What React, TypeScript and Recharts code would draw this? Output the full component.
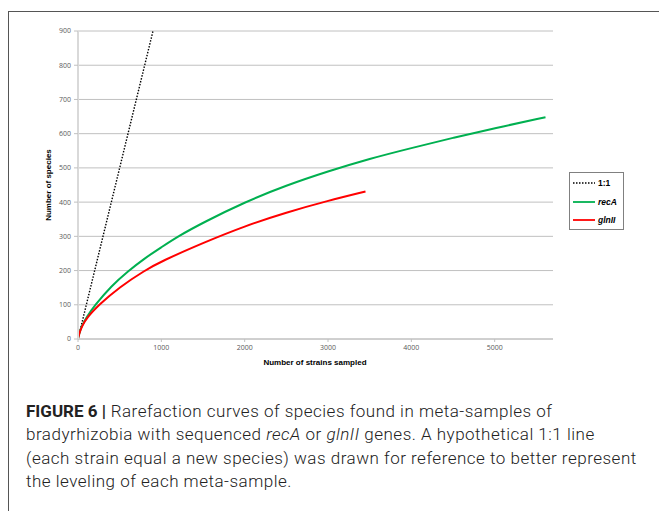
import React from "react";
import { CartesianGrid, Line, LineChart, XAxis, YAxis } from "recharts";

// 1:1 reference line
const oneToOne = [
  { x: 0, y: 0 },
  { x: 900, y: 900 },
];

// recA rarefaction curve (strains sampled, species)
const recA = [
  { x: 0, y: 0 },
  { x: 10, y: 12 },
  { x: 25, y: 24 },
  { x: 50, y: 40 },
  { x: 100, y: 63 },
  { x: 200, y: 98 },
  { x: 400, y: 155 },
  { x: 600, y: 198 },
  { x: 800, y: 236 },
  { x: 1000, y: 268 },
  { x: 1200, y: 300 },
  { x: 1500, y: 340 },
  { x: 2000, y: 400 },
  { x: 2500, y: 449 },
  { x: 3000, y: 490 },
  { x: 3500, y: 527 },
  { x: 4000, y: 558 },
  { x: 4500, y: 588 },
  { x: 5000, y: 616 },
  { x: 5610, y: 648 },
];

// glnII rarefaction curve
const glnII = [
  { x: 0, y: 0 },
  { x: 10, y: 11 },
  { x: 25, y: 23 },
  { x: 50, y: 38 },
  { x: 100, y: 60 },
  { x: 250, y: 100 },
  { x: 500, y: 152 },
  { x: 800, y: 200 },
  { x: 1000, y: 227 },
  { x: 1500, y: 281 },
  { x: 2000, y: 330 },
  { x: 2500, y: 370 },
  { x: 3000, y: 404 },
  { x: 3450, y: 431 },
];

const xTicks = [0, 1000, 2000, 3000, 4000, 5000];
const yTicks = [0, 100, 200, 300, 400, 500, 600, 700, 800, 900];

const legendItems = [
  { name: "1:1", color: "#000000", dash: "1.5 1.5", italic: false },
  { name: "recA", color: "#00b050", dash: undefined, italic: true },
  { name: "glnII", color: "#ff0000", dash: undefined, italic: true },
];

const tickStyle = { fontSize: 7, fill: "#595959", fontFamily: "Open Sans, sans-serif" };
const titleStyle = { fontSize: 8, fontWeight: 700, fontFamily: "Liberation Sans, Arial, sans-serif", fill: "#000" };

const ChartLegend = () => (
  <div
    style={{
      position: "absolute",
      left: 569,
      top: 172,
      width: 53,
      height: 56,
      border: "1px solid #808080",
      background: "#fff",
      fontFamily: "Liberation Sans, Arial, sans-serif",
      fontSize: 8.5,
      fontWeight: 700,
      color: "#000",
    }}
  >
    {legendItems.map((it, i) => (
      <div
        key={it.name}
        style={{ position: "absolute", left: 3, top: 6 + i * 18.5, display: "flex", alignItems: "center" }}
      >
        <svg width={22} height={6}>
          <line x1={0} y1={3} x2={22} y2={3} stroke={it.color} strokeWidth={it.dash ? 1.3 : 1.8} strokeDasharray={it.dash} />
        </svg>
        <span style={{ marginLeft: 3, fontStyle: it.italic ? "italic" : "normal", lineHeight: "8px" }}>{it.name}</span>
      </div>
    ))}
  </div>
);

export default function App() {
  return (
    <div style={{ position: "fixed", left: 0, top: 0, width: 659, height: 511, overflow: "hidden", background: "#fff" }}>
      <div
        style={{
          position: "absolute",
          left: 8,
          top: 11,
          width: 680,
          height: 540,
          border: "1px solid #555",
          boxSizing: "border-box",
        }}
      />
      <div style={{ position: "absolute", left: 0, top: 0 }}>
        <LineChart width={659} height={380} margin={{ top: 31, right: 106, bottom: 0, left: 20 }}>
          <CartesianGrid vertical={false} stroke="#c0c0c0" strokeWidth={1} />
          <XAxis
            type="number"
            dataKey="x"
            domain={[0, 5700]}
            ticks={xTicks}
            allowDataOverflow
            axisLine={{ stroke: "#c0c0c0" }}
            tickLine={{ stroke: "#c0c0c0" }}
            tickSize={3}
            tickMargin={3}
            tick={tickStyle}
            height={41}
            label={{
              content: () => (
                <text x={315} y={365} textAnchor="middle" style={titleStyle}>
                  Number of strains sampled
                </text>
              ),
            }}
          />
          <YAxis
            type="number"
            dataKey="y"
            domain={[0, 900]}
            ticks={yTicks}
            allowDataOverflow
            width={58}
            axisLine={{ stroke: "#d9d9d9", strokeWidth: 2 }}
            tickLine={{ stroke: "#c0c0c0" }}
            tickSize={4}
            tickMargin={3}
            tick={tickStyle}
            label={{
              content: () => (
                <text x={51} y={185} transform="rotate(-90 51 185)" textAnchor="middle" style={titleStyle}>
                  Number of species
                </text>
              ),
            }}
          />
          <Line
            data={oneToOne}
            dataKey="y"
            name="1:1"
            type="linear"
            stroke="#000"
            strokeWidth={1.4}
            strokeDasharray="1.5 1.5"
            dot={false}
            isAnimationActive={false}
          />
          <Line
            data={recA}
            dataKey="y"
            name="recA"
            type="basis"
            stroke="#00b050"
            strokeWidth={2}
            dot={false}
            isAnimationActive={false}
          />
          <Line
            data={glnII}
            dataKey="y"
            name="glnII"
            type="basis"
            stroke="#ff0000"
            strokeWidth={2}
            dot={false}
            isAnimationActive={false}
          />
        </LineChart>
      </div>
      <ChartLegend />
      <div
        style={{
          position: "absolute",
          left: 26,
          top: 400,
          fontFamily: "Roboto, sans-serif",
          fontWeight: 300,
          fontSize: 17,
          letterSpacing: 0.5,
          lineHeight: "23.4px",
          color: "#222",
          whiteSpace: "nowrap",
        }}
      >
        <span style={{ fontWeight: 700, letterSpacing: 0 }}>FIGURE 6 |</span> Rarefaction curves of species found in
        meta-samples of
        <br />
        bradyrhizobia with sequenced <i>recA</i> or <i>glnII</i> genes. A hypothetical 1:1 line
        <br />
        (each strain equal a new species) was drawn for reference to better represent
        <br />
        the leveling of each meta-sample.
      </div>
    </div>
  );
}
